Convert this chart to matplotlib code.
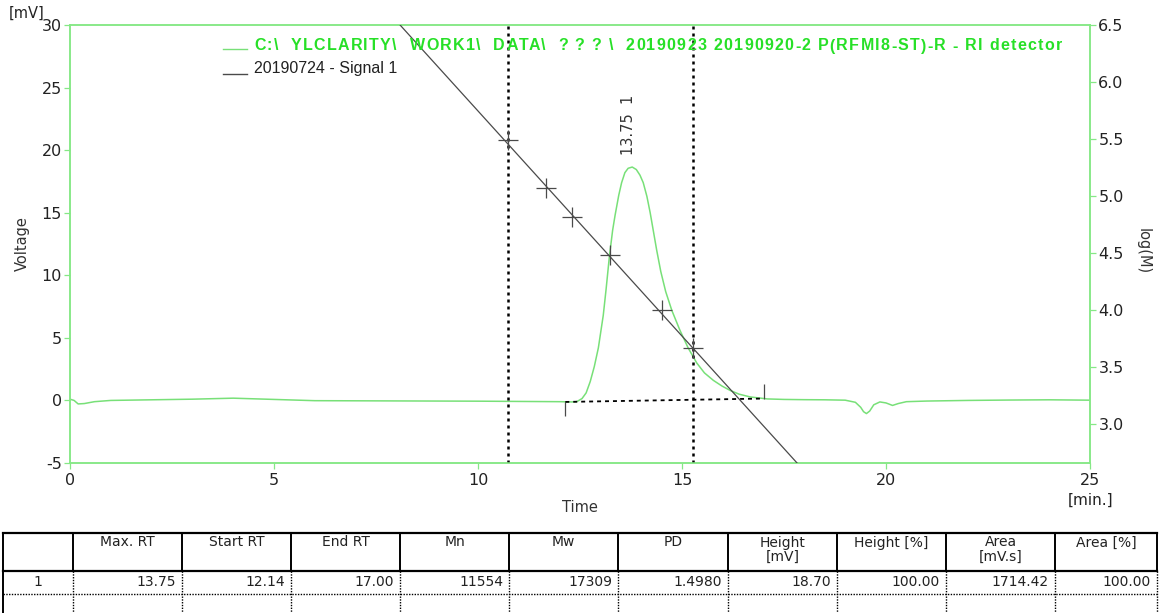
import matplotlib
matplotlib.use("Agg")
import numpy as np
import matplotlib.pyplot as plt

plt.rcParams["axes.unicode_minus"] = False

W, H = 1159, 613

# RI detector trace: time [min] vs signal [mV]
trace_t = [0.0, 0.1, 0.2, 0.35, 0.6, 1.0, 2.0, 3.0, 4.0, 5.0, 6.0, 7.0, 8.0,
           9.0, 10.0, 11.0, 12.0, 12.3, 12.42, 12.55, 12.65, 12.75, 12.85,
           12.95, 13.07, 13.14, 13.22, 13.30, 13.36, 13.45, 13.52, 13.60,
           13.68, 13.78, 13.88, 13.97, 14.05, 14.14, 14.22, 14.30, 14.38,
           14.48, 14.60, 14.75, 14.95, 15.15, 15.36, 15.55, 15.77, 15.98,
           16.18, 16.40, 16.67, 17.09, 17.5, 18.0, 18.5, 19.0, 19.25, 19.38,
           19.45, 19.52, 19.60, 19.70, 19.85, 20.0, 20.16, 20.3, 20.5, 21.0,
           22.0, 23.0, 24.0, 25.0]
trace_mv = [0.10, 0.0, -0.28, -0.25, -0.10, 0.0, 0.05, 0.10, 0.18, 0.08,
            -0.02, -0.03, -0.04, -0.05, -0.06, -0.08, -0.10, -0.12, -0.10,
            0.15, 0.6, 1.5, 2.7, 4.2, 6.8, 8.9, 11.5, 13.6, 14.8, 16.4, 17.4,
            18.2, 18.55, 18.65, 18.45, 18.0, 17.4, 16.3, 15.0, 13.5, 12.0,
            10.3, 8.7, 7.2, 5.6, 4.2, 3.0, 2.2, 1.6, 1.15, 0.8, 0.5, 0.28,
            0.12, 0.08, 0.06, 0.05, 0.02, -0.15, -0.55, -0.9, -1.05, -0.85,
            -0.35, -0.12, -0.2, -0.4, -0.25, -0.1, -0.05, 0.0, 0.03, 0.05, 0.02]

# calibration (log M vs time)
calib_t = [10.74, 11.67, 12.30, 13.23, 14.50, 15.28]
calib_logm = [5.49, 5.07, 4.82, 4.48, 4.00, 3.67]
fit_t = [8.09, 17.82]
fit_logm = [6.50, 2.66]

slice_t = [10.74, 15.27]
base_t = [12.14, 17.00]
base_mv = [-0.12, 0.15]
peak_rt = 13.75
peak_top = 19.6
peak_label = "13.75  1"

legend_labels = [
    "C:\\  YLCLARITY\\  WORK1\\  DATA\\  ? ? ? \\  20190923 20190920-2 P(RFMI8-ST)-R - RI detector",
    "20190724 - Signal 1",
]

table_cols = ["", "Max. RT", "Start RT", "End RT", "Mn", "Mw", "PD",
              "Height\n[mV]", "Height [%]", "Area\n[mV.s]", "Area [%]"]
table_row = ["1", "13.75", "12.14", "17.00", "11554", "17309", "1.4980",
             "18.70", "100.00", "1714.42", "100.00"]
col_edges = [3, 73, 182, 291, 400, 509, 618, 728, 837, 946, 1055, 1157]

GREEN_AX = "#86e886"
GREEN_TR = "#78e078"
GREEN_TXT = "#27e027"
DARK = "#4a4a4a"

fig = plt.figure(figsize=(W / 100, H / 100), dpi=100, facecolor="white")
ax = fig.add_axes([70 / W, 1 - 463 / H, 1020 / W, 438 / H])
ax2 = ax.twinx()

ax.plot(trace_t, trace_mv, color=GREEN_TR, lw=1.1, zorder=2)
ax.plot(base_t, base_mv, color="black", lw=1.3, ls=(0, (2.2, 2.2)), zorder=3)
ax.vlines(base_t[0], base_mv[0] - 1.1, base_mv[0], color=DARK, lw=0.9)
ax.vlines(base_t[1], base_mv[1], base_mv[1] + 1.15, color=DARK, lw=0.9)
for t in slice_t:
    ax.axvline(t, color="black", lw=1.8, ls=(0, (1.2, 1.6)), zorder=3)
ax.text(peak_rt - 0.05, peak_top, peak_label, rotation=90, ha="center", va="bottom",
        fontsize=10.5, color="#333333")

ax2.plot(fit_t, fit_logm, color=DARK, lw=0.9, zorder=4)
ax2.plot(calib_t, calib_logm, ls="none", marker="+", ms=15, mew=0.9, color=DARK)

ax.set_xlim(0, 25)
ax.set_ylim(-5, 30)
ax2.set_ylim(2.66, 6.5)
ax.set_xticks(np.arange(0, 26, 5))
ax.set_yticks(np.arange(-5, 31, 5))
ax2.set_yticks(np.arange(3.0, 6.51, 0.5))
ax2.set_yticklabels([f"{v:.1f}" for v in np.arange(3.0, 6.51, 0.5)])

for a in (ax, ax2):
    for s in a.spines.values():
        s.set_color(GREEN_AX)
        s.set_linewidth(1.1)
    a.tick_params(colors=GREEN_AX, labelcolor="#222222", labelsize=11.5,
                  length=4, width=0.9, direction="out")
ax.tick_params(axis="y", pad=2)
ax2.tick_params(axis="y", pad=2)
ax.tick_params(axis="x", pad=3)

# overlay in pixel coordinates for labels, legend and the result table
ov = fig.add_axes([0, 0, 1, 1], facecolor="none")
ov.set_xlim(0, W)
ov.set_ylim(H, 0)
ov.axis("off")

ov.text(44, 13, "[mV]", ha="right", va="center", fontsize=10.5, color="#222222")
ov.text(22, 244, "Voltage", rotation=90, ha="center", va="center", fontsize=10.5, color="#333333")
ov.text(1143, 251, "log(M)", rotation=270, ha="center", va="center", fontsize=10.5, color="#333333")
ov.text(580, 508, "Time", ha="center", va="center", fontsize=10.5, color="#333333")
ov.text(1091, 500, "[min.]", ha="center", va="center", fontsize=11, color="#222222")

# legend
ov.plot([223, 247], [49, 49], color=GREEN_TR, lw=1.0)
ov.plot([223, 247], [74, 74], color=DARK, lw=1.0)
ov.text(254, 69, legend_labels[1], ha="left", va="center", fontsize=11.5,
        family="Liberation Sans", color="#222222")


def tracked_text(s, x0, y, width, **kw):
    r = fig.canvas.get_renderer()
    widths = []
    for i in range(len(s) + 1):
        t = ov.text(0, 0, s[:i] + "|", **kw)
        widths.append(t.get_window_extent(r).width)
        t.remove()
    bar = widths[0]
    full = widths[-1] - bar
    extra = (width - full) / (len(s) - 1)
    for i, ch in enumerate(s):
        if ch != " ":
            ov.text(x0 + widths[i] - bar + i * extra, y, ch, ha="left", va="center", **kw)


tracked_text(legend_labels[0], 254, 46, 808, fontsize=11.5, family="Liberation Sans",
             weight="bold", color=GREEN_TXT)

# table
tab_top, head_bot, row_bot, tab_bot = 533, 571, 594, 613
ov.plot([col_edges[0], col_edges[-1]], [tab_top, tab_top], color="black", lw=1.6)
ov.plot([col_edges[0], col_edges[-1]], [head_bot, head_bot], color="black", lw=1.6)
ov.plot([col_edges[0], col_edges[-1]], [row_bot, row_bot], color="black", lw=1.0, ls=(0, (1, 1)))
for i, xe in enumerate(col_edges):
    ov.plot([xe, xe], [tab_top, head_bot], color="black", lw=1.4)
    if i == 0:
        ov.plot([xe, xe], [head_bot, tab_bot], color="black", lw=1.4)
    else:
        ov.plot([xe, xe], [head_bot, tab_bot], color="black", lw=1.0, ls=(0, (1, 1)))
for i, lab in enumerate(table_cols):
    xc = (col_edges[i] + col_edges[i + 1]) / 2
    ov.text(xc, 535.5, lab, ha="center", va="top", fontsize=10, color="#222222",
            linespacing=1.0)
for i, val in enumerate(table_row):
    if i == 0:
        ov.text((col_edges[0] + col_edges[1]) / 2, 582, val, ha="center", va="center",
                fontsize=10, color="#222222")
    else:
        ov.text(col_edges[i + 1] - 6, 582, val, ha="right", va="center",
                fontsize=10, color="#222222")

fig.savefig("out.png", dpi=100)
